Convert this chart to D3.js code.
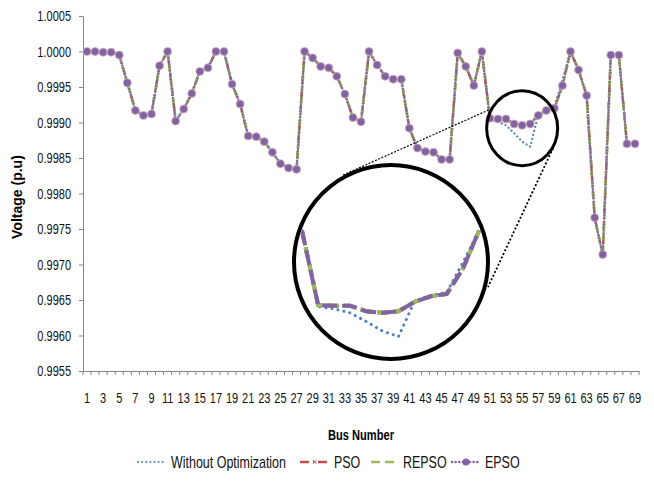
<!DOCTYPE html>
<html>
<head>
<meta charset="utf-8">
<script src="https://cdn.jsdelivr.net/npm/d3@7"></script>
<style>
  body { margin: 0; background: #fff; }
  svg { font-family: "Liberation Sans", Arial, sans-serif; }
</style>
</head>
<body>
<div id="container"></div>
<script>
/* CONSTANTS AND GLOBALS */
const width = 654,
  height = 489,
  margin = { top: 16, right: 15, bottom: 118, left: 83 },
  squeeze = 0.76;

/* DATA */
const buses = d3.range(1, 70);
const yTicks = [0.9955, 0.9960, 0.9965, 0.9970, 0.9975, 0.9980, 0.9985, 0.9990, 0.9995, 1.0000, 1.0005];
const xTickLabels = buses.filter(b => b % 2 === 1);

const withoutOpt = [
  1.0000, 1.0000, 0.99999, 0.99999, 0.99995, 0.99956, 0.99917, 0.99910, 0.99912, 0.99980,
  1.0000, 0.99902, 0.99919, 0.99941, 0.99972, 0.99977, 1.0000, 1.0000, 0.99954, 0.99926,
  0.99881, 0.99880, 0.99873, 0.99858, 0.99842, 0.99836, 0.99834, 1.0000, 0.99991, 0.99979,
  0.99977, 0.99965, 0.99940, 0.99907, 0.99901, 1.0000, 0.99981, 0.99965, 0.99961, 0.99961,
  0.99892, 0.99864, 0.99859, 0.99858, 0.99848, 0.99848, 0.99998, 0.99979, 0.99952, 1.0000,
  0.99904, 0.99901, 0.99896, 0.99885, 0.99873, 0.99866, 0.99911, 0.99918, 0.99922, 0.99960,
  1.0000, 0.99974, 0.99938, 0.99766, 0.99714, 0.99995, 0.99995, 0.99870, 0.99870
];
const pso = [
  1.0000, 1.0000, 0.99999, 0.99999, 0.99995, 0.99956, 0.99917, 0.99910, 0.99912, 0.99980,
  1.0000, 0.99902, 0.99919, 0.99941, 0.99972, 0.99977, 1.0000, 1.0000, 0.99954, 0.99926,
  0.99881, 0.99880, 0.99873, 0.99858, 0.99842, 0.99836, 0.99834, 1.0000, 0.99991, 0.99979,
  0.99977, 0.99965, 0.99940, 0.99907, 0.99901, 1.0000, 0.99981, 0.99965, 0.99961, 0.99961,
  0.99892, 0.99864, 0.99859, 0.99858, 0.99848, 0.99848, 0.99998, 0.99979, 0.99952, 1.0000,
  0.99906, 0.99905, 0.99905, 0.99898, 0.99896, 0.99898, 0.99910, 0.99917, 0.99920, 0.99952,
  1.0000, 0.99974, 0.99938, 0.99766, 0.99714, 0.99995, 0.99995, 0.99870, 0.99870
];
const repso = pso.slice();
const epso = pso.slice();

const series = [
  { name: "Without Optimization", values: withoutOpt, color: "#4F81BD", width: 2.2, dash: "0.1,4", cap: "round" },
  { name: "PSO", values: pso, color: "#C0504D", width: 2.5, dash: "8,3,1,3", cap: "butt" },
  { name: "REPSO", values: repso, color: "#9BBB59", width: 2.8, dash: "7,4", cap: "butt" },
  { name: "EPSO", values: epso, color: "#8064A2", width: 2.2, dash: "0.1,3", cap: "round" }
];

const svg = d3.select("#container")
  .append("svg")
  .attr("width", width)
  .attr("height", height);

/* SCALES */
const xScale = d3.scaleBand()
  .domain(buses)
  .range([margin.left, width - margin.right]);
const xc = b => xScale(b) + xScale.bandwidth() / 2;

const yScale = d3.scaleLinear()
  .domain([0.9955, 1.0005])
  .range([height - margin.bottom, margin.top]);

/* AXES */
const axisColor = "#868686";
const yAxis = svg.append("g")
  .attr("transform", `translate(${margin.left},0)`)
  .call(d3.axisLeft(yScale).tickValues(yTicks).tickFormat(d3.format(".4f")).tickSize(4).tickPadding(8));
yAxis.selectAll("line, path").attr("stroke", axisColor);
yAxis.selectAll("text")
  .attr("font-size", 14.5)
  .attr("fill", "#111")
  .attr("x", -12 / squeeze)
  .attr("transform", `scale(${squeeze},1)`);

const xAxis = svg.append("g")
  .attr("transform", `translate(0,${height - margin.bottom})`)
  .call(d3.axisBottom(xScale).tickValues(xTickLabels).tickSize(0).tickPadding(22));
xAxis.select("path").attr("stroke", axisColor);
xAxis.selectAll("text")
  .attr("font-size", 14.5)
  .attr("fill", "#111")
  .attr("transform", `scale(${squeeze},1)`);
// category boundary ticks
xAxis.selectAll(".btick")
  .data(buses.map(b => xScale(b)).concat([xScale.range()[1]]))
  .join("line")
  .attr("class", "btick")
  .attr("x1", d => d).attr("x2", d => d)
  .attr("y1", 0).attr("y2", 4)
  .attr("stroke", axisColor);

svg.append("text")
  .attr("transform", `translate(22,${yScale(0.99795)}) rotate(-90)`)
  .attr("text-anchor", "middle")
  .attr("font-weight", "bold")
  .attr("font-size", 14)
  .text("Voltage (p.u)");

svg.append("text")
  .attr("transform", `translate(${(margin.left + width - margin.right) / 2},440) scale(0.74,1)`)
  .attr("text-anchor", "middle")
  .attr("font-weight", "bold")
  .attr("font-size", 15)
  .text("Bus Number");

/* LINES */
const line = d3.line()
  .x((d, i) => xc(buses[i]))
  .y(d => yScale(d));

series.forEach(s => {
  svg.append("path")
    .datum(s.values)
    .attr("fill", "none")
    .attr("stroke", s.color)
    .attr("stroke-width", s.width)
    .attr("stroke-dasharray", s.dash)
    .attr("stroke-linecap", s.cap)
    .attr("d", line);
});

// EPSO markers
svg.selectAll(".dot")
  .data(epso)
  .join("circle")
  .attr("class", "dot")
  .attr("cx", (d, i) => xc(buses[i]))
  .attr("cy", d => yScale(d))
  .attr("r", 4)
  .attr("fill", "#8064A2")
  .attr("stroke", "#d9aebd")
  .attr("stroke-width", 0.8);

/* ZOOM CALLOUT */
const small = { cx: xc(55), cy: yScale(0.99892), rx: 35.5, ry: 37.5 };
const big = { cx: 391, cy: 262, r: 97 };

svg.append("ellipse")
  .attr("cx", small.cx).attr("cy", small.cy)
  .attr("rx", small.rx).attr("ry", small.ry)
  .attr("fill", "none").attr("stroke", "#000").attr("stroke-width", 3);

svg.append("circle")
  .attr("cx", big.cx).attr("cy", big.cy).attr("r", big.r)
  .attr("fill", "none").attr("stroke", "#000").attr("stroke-width", 4);

svg.append("line")
  .attr("x1", 343).attr("y1", 175).attr("x2", small.cx - small.rx + 2).attr("y2", 110)
  .attr("stroke", "#000").attr("stroke-width", 1.2).attr("stroke-dasharray", "2,1.5");
svg.append("line")
  .attr("x1", small.cx + 31).attr("y1", 148).attr("x2", 488).attr("y2", 287)
  .attr("stroke", "#000").attr("stroke-width", 1.8).attr("stroke-dasharray", "2,2");

// inset (magnified buses 50..61)
const insetBuses = d3.range(50, 62);
const xIn = d3.scaleLinear().domain([50, 61]).range([302, 479]);
const yIn = d3.scaleLinear().domain([0.9985, 1.0000]).range([349.2, 230.7]);
const lineIn = d3.line()
  .x(d => xIn(d.b))
  .y(d => yIn(d.v));

svg.append("clipPath").attr("id", "insetClip")
  .append("circle").attr("cx", big.cx).attr("cy", big.cy).attr("r", big.r - 2);

const insetG = svg.append("g").attr("clip-path", "url(#insetClip)");
const insetStyle = [
  { width: 3, dash: "0.1,6", cap: "round" },
  { width: 4, dash: "12,5", cap: "butt" },
  { width: 4, dash: "12,5", cap: "butt" },
  { width: 4, dash: "15,5", cap: "butt" }
];
series.forEach((s, k) => {
  const pts = insetBuses.map(b => ({ b: b, v: s.values[b - 1] }));
  insetG.append("path")
    .datum(pts)
    .attr("fill", "none")
    .attr("stroke", s.color)
    .attr("stroke-width", insetStyle[k].width)
    .attr("stroke-dasharray", insetStyle[k].dash)
    .attr("stroke-linecap", insetStyle[k].cap)
    .attr("d", lineIn);
});

/* LEGEND */
const legendItems = [
  { name: "Without Optimization", x: 138, w: 28, tx: 171 },
  { name: "PSO", x: 300, w: 30, tx: 334 },
  { name: "REPSO", x: 371, w: 25, tx: 403 },
  { name: "EPSO", x: 452, w: 28, tx: 485 }
];
const legendDash = ["0.1,4", "9,4,1,4", "9,5", "0.1,3.5"];
const legend = svg.append("g").attr("transform", "translate(0,462)");
legendItems.forEach((it, k) => {
  const s = series[k];
  legend.append("line")
    .attr("x1", it.x).attr("x2", it.x + it.w)
    .attr("y1", 0).attr("y2", 0)
    .attr("stroke", s.color)
    .attr("stroke-width", k === 0 ? 2 : 2.5)
    .attr("stroke-dasharray", legendDash[k])
    .attr("stroke-linecap", s.cap);
  if (k === 1) {
    legend.append("text").attr("x", it.x + 15).attr("y", 3).attr("text-anchor", "middle")
      .attr("font-size", 9).attr("fill", "#C0504D").text("×");
  }
  if (k === 3) {
    legend.append("circle").attr("cx", it.x + it.w / 2).attr("cy", 0).attr("r", 3.6)
      .attr("fill", "#8064A2");
  }
  legend.append("text")
    .attr("transform", `translate(${it.tx},5.5) scale(0.78,1)`)
    .attr("font-size", 16)
    .attr("fill", "#111")
    .text(it.name);
});
</script>
</body>
</html>
